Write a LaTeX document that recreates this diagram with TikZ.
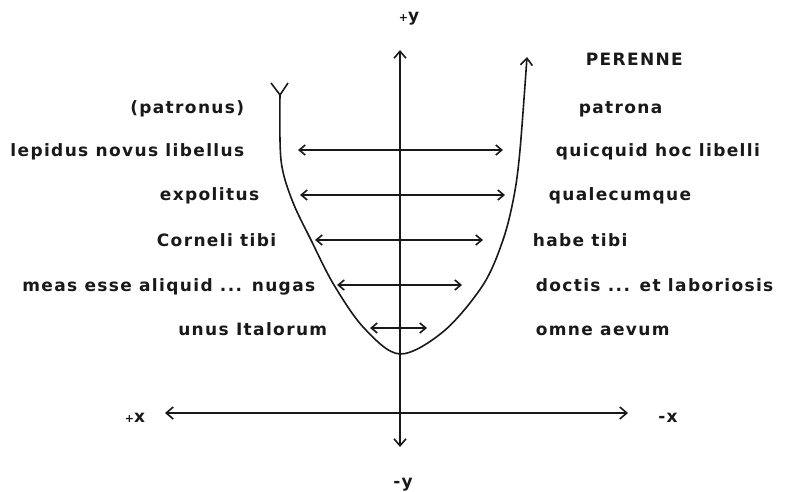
\documentclass[tikz,border=0pt]{standalone}
\usepackage{fontspec}
\setmainfont{DejaVu Sans}[LetterSpace=8]
\usetikzlibrary{arrows.meta}
\definecolor{ink}{RGB}{25,25,25}
\tikzset{
  every picture/.style={color=ink, line width=1.6pt, x=1pt, y=-1pt},
  word/.style={font=\bfseries\fontsize{17}{20}\selectfont, inner sep=0pt, text=ink},
  lword/.style={word, anchor=base east},
  rword/.style={word, anchor=base west},
  axlbl/.style={word, anchor=base},
  axis/.style={{Straight Barb[length=7pt,width=12pt]}-{Straight Barb[length=7pt,width=12pt]}},
  pair/.style={{Straight Barb[length=6pt,width=10pt]}-{Straight Barb[length=6pt,width=10pt]}},
  upward/.style={-{Straight Barb[length=7pt,width=12pt]}},
}
\newcommand{\smallplus}{{\fontsize{11}{11}\selectfont+}}

\begin{document}
\begin{tikzpicture}
  \useasboundingbox (0,0) rectangle (788,492);
  % axes
  \coordinate (ytop) at (400,50);
  \coordinate (ybot) at (400,447);
  \coordinate (xleft) at (165,413);
  \coordinate (xright) at (628,413);
  \draw[axis] (ybot) -- (ytop);
  \draw[axis] (xleft) -- (xright);
  \node[axlbl] (py) at (409,22) {\smallplus y};
  \node[axlbl] (my) at (403,487) {-y};
  \node[axlbl] (px) at (135,422) {\smallplus x};
  \node[axlbl] (mx) at (668,422) {-x};

  % the bowl, with its forked tail on the left arm
  \coordinate (fork) at (280,95);
  \draw (271,83) -- (fork) -- (288,83);
  \draw[upward] plot[smooth, tension=0.55] coordinates {
    (fork) (281,160) (292,200) (311,240) (334,285) (364,328) (400,354)
    (444,331) (483,285) (503,240) (514,196) (520,150) (527,57)};

  % left words
  \node[lword] (patronus) at (245,114) {(patronus)};
  \node[lword] (lepidus) at (245,157) {lepidus novus libellus};
  \node[lword] (expolitus) at (260,201) {expolitus};
  \node[lword] (corneli) at (277,247) {Corneli tibi};
  \node[lword] (nugas) at (316,291) {meas esse aliquid ... nugas};
  \node[lword] (unus) at (328,335) {unus Italorum};

  % right words
  \node[rword] (perenne) at (585,66) {PERENNE};
  \node[rword] (patrona) at (578,114) {patrona};
  \node[rword] (quicquid) at (555,157) {quicquid hoc libelli};
  \node[rword] (qualecumque) at (548,201) {qualecumque};
  \node[rword] (habe) at (532,247) {habe tibi};
  \node[rword] (doctis) at (535,291) {doctis ... et laboriosis};
  \node[rword] (omne) at (535,335) {omne aevum};

  % pairings across the bowl
  \foreach \y/\a/\b [count=\i] in {150/298/503, 195/300/505, 240/315/483, 285/337/462, 328/370/427} {
    \coordinate (l\i) at (\a,\y);
    \coordinate (r\i) at (\b,\y);
    \draw[pair] (l\i) -- (r\i);
  }
\end{tikzpicture}
\end{document}
